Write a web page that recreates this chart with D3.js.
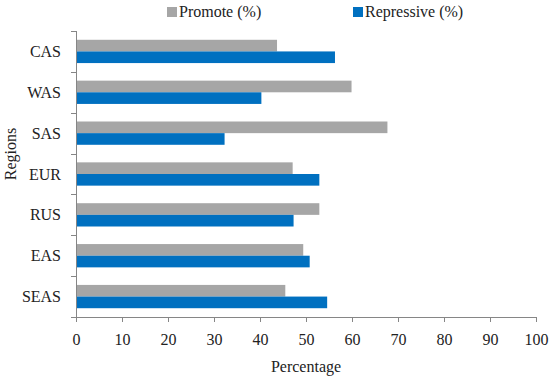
<!DOCTYPE html>
<html>
  <style>
    body { margin: 0; background: #fff; }
    svg text { font-family: "Liberation Serif", "DejaVu Serif", serif; fill: #222; }
  </style>
  <body>
    <div id="chart"></div>
  </body>
  <script src="https://d3js.org/d3.v7.min.js"></script>
  <script>
    // Data
    const regions = ['CAS', 'WAS', 'SAS', 'EUR', 'RUS', 'EAS', 'SEAS'];
    const promote = [43.7, 59.9, 67.7, 47.1, 52.9, 49.4, 45.5];
    const repressive = [56.3, 40.3, 32.3, 52.9, 47.3, 50.8, 54.6];
    const xTicks = [0, 10, 20, 30, 40, 50, 60, 70, 80, 90, 100];

    const WIDTH = 550, HEIGHT = 381;
    const LEFT = 76, RIGHT = 536, TOP = 31, BOTTOM = 317;
    const GRAY = '#a6a6a6', BLUE = '#0070c0', AXIS = '#868686';
    const FONT = '"Liberation Serif", "DejaVu Serif", serif';
    const FS = '16px';

    var svg = d3.select('#chart').append('svg')
      .attr('width', WIDTH).attr('height', HEIGHT);

    var x = d3.scaleLinear().domain([0, 100]).range([LEFT, RIGHT]);
    var y = d3.scaleBand().domain(regions).range([TOP, BOTTOM]).paddingInner(0.43).paddingOuter(0.215);
    var sub = d3.scaleBand().domain(['promote', 'repressive']).range([0, y.bandwidth()]);

    // Bars
    var rows = regions.map(function (r, i) {
      return { region: r, promote: promote[i], repressive: repressive[i] };
    });
    var g = svg.selectAll('g.row').data(rows).enter().append('g')
      .attr('class', 'row')
      .attr('transform', function (d) { return 'translate(0,' + y(d.region) + ')'; });
    g.append('rect')
      .attr('x', x(0)).attr('y', sub('promote'))
      .attr('width', function (d) { return x(d.promote) - x(0); })
      .attr('height', sub.bandwidth())
      .attr('fill', GRAY);
    g.append('rect')
      .attr('x', x(0)).attr('y', sub('repressive'))
      .attr('width', function (d) { return x(d.repressive) - x(0); })
      .attr('height', sub.bandwidth())
      .attr('fill', BLUE);

    // X axis
    var xAxis = svg.append('g')
      .attr('transform', 'translate(0,' + BOTTOM + ')')
      .call(d3.axisBottom(x).tickValues(xTicks).tickSize(5).tickPadding(12));
    xAxis.attr('font-family', null).attr('font-size', null);
    xAxis.selectAll('text').style('font-size', FS).style('font-family', FONT).attr('fill', '#222');
    xAxis.select('.domain').attr('stroke', AXIS);
    xAxis.selectAll('.tick line').attr('stroke', AXIS);

    // Y axis: ticks between categories
    svg.append('line')
      .attr('x1', LEFT + 0.5).attr('x2', LEFT + 0.5)
      .attr('y1', TOP).attr('y2', BOTTOM)
      .attr('stroke', AXIS);
    d3.range(regions.length + 1).forEach(function (i) {
      var yy = Math.round(TOP + i * (BOTTOM - TOP) / regions.length) + 0.5;
      svg.append('line')
        .attr('x1', LEFT - 5).attr('x2', LEFT)
        .attr('y1', yy).attr('y2', yy)
        .attr('stroke', AXIS);
    });
    svg.selectAll('text.ylab').data(regions).enter().append('text')
      .attr('class', 'ylab')
      .attr('x', LEFT - 15)
      .attr('y', function (d) { return y(d) + y.bandwidth() / 2; })
      .attr('dy', '0.35em')
      .attr('text-anchor', 'end')
      .style('font-size', FS)
      .text(function (d) { return d; });

    // Axis titles
    svg.append('text')
      .attr('x', (LEFT + RIGHT) / 2).attr('y', 372)
      .attr('text-anchor', 'middle')
      .style('font-size', FS)
      .text('Percentage');
    svg.append('text')
      .attr('transform', 'translate(16,154) rotate(-90)')
      .attr('text-anchor', 'middle')
      .style('font-size', FS)
      .text('Regions');

    // Legend
    var legend = [
      { label: 'Promote (%)', color: GRAY, x: 167 },
      { label: 'Repressive (%)', color: BLUE, x: 353 }
    ];
    var lg = svg.selectAll('g.legend').data(legend).enter().append('g')
      .attr('class', 'legend')
      .attr('transform', function (d) { return 'translate(' + d.x + ',0)'; });
    lg.append('rect').attr('x', 0).attr('y', 7).attr('width', 10).attr('height', 10)
      .attr('fill', function (d) { return d.color; });
    lg.append('text').attr('x', 12).attr('y', 17)
      .style('font-size', FS)
      .text(function (d) { return d.label; });
  </script>
</html>
